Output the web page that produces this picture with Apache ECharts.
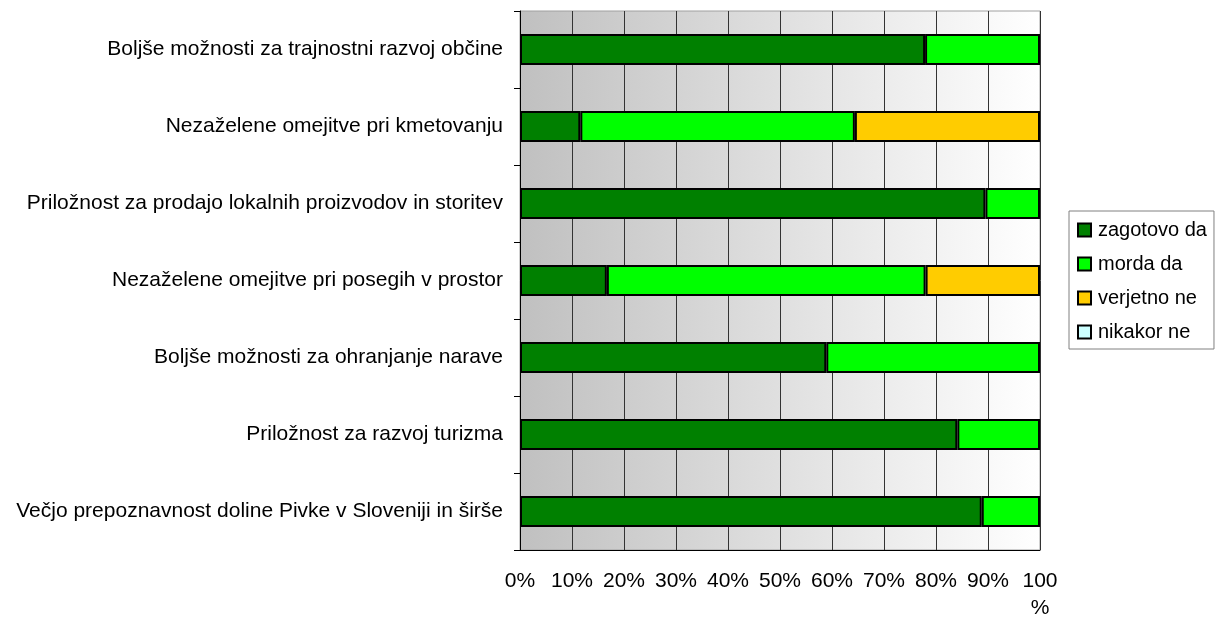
<!DOCTYPE html>
<html>
<head>
<meta charset="utf-8">
<script src="https://cdn.jsdelivr.net/npm/echarts@6/dist/echarts.min.js"></script>
<style>html,body{margin:0;padding:0;background:#fff;}#c{width:1221px;height:618px;}</style>
</head>
<body>
<div id="c"></div>
<script>
const categories = [
  "Boljše možnosti za trajnostni razvoj občine",
  "Nezaželene omejitve pri kmetovanju",
  "Priložnost za prodajo lokalnih proizvodov in storitev",
  "Nezaželene omejitve pri posegih v prostor",
  "Boljše možnosti za ohranjanje narave",
  "Priložnost za razvoj turizma",
  "Večjo prepoznavnost doline Pivke v Sloveniji in širše"
];
const seriesNames = ["zagotovo da", "morda da", "verjetno ne", "nikakor ne"];
const zagotovoDa = [77.9, 11.6, 89.5, 16.7, 58.9, 84.1, 88.8];
const mordaDa    = [22.1, 52.8, 10.5, 61.3, 41.1, 15.9, 11.2];
const verjetnoNe = [0, 35.6, 0, 22.0, 0, 0, 0];
const nikakorNe  = [0, 0, 0, 0, 0, 0, 0];
const tickLabels = ["0%","10%","20%","30%","40%","50%","60%","70%","80%","90%","100\n%"];
const colors = ["#008000", "#00ff00", "#ffcc00", "#ccffff"];

const FONT = "'Liberation Sans', Arial, sans-serif";
const chart = echarts.init(document.getElementById('c'));
const values = [zagotovoDa, mordaDa, verjetnoNe, nikakorNe];

chart.setOption({
  animation: false,
  textStyle: { fontFamily: FONT },
  grid: {
    left: 520, right: 181, top: 11, bottom: 68,
    outerBoundsMode: 'none',
    containLabel: false,
    show: true,
    borderColor: '#a0a0a0', borderWidth: 1,
    backgroundColor: new echarts.graphic.LinearGradient(0, 0, 1, 0, [
      { offset: 0, color: '#c0c0c0' },
      { offset: 1, color: '#ffffff' }
    ])
  },
  legend: {
    orient: 'vertical',
    left: 1069, top: 211,
    data: seriesNames,
    itemWidth: 13, itemHeight: 13, itemGap: 14,
    padding: [9, 7, 7, 8],
    backgroundColor: '#fff',
    borderColor: '#808080', borderWidth: 1,
    icon: 'rect',
    textStyle: { fontFamily: FONT, fontSize: 20, color: '#000', padding: [0, 0, 0, 2] }
  },
  xAxis: {
    type: 'value', min: 0, max: 100, interval: 10,
    axisLine: { show: true, lineStyle: { color: '#000', width: 1 } },
    axisTick: { show: false },
    splitLine: { show: true, lineStyle: { color: '#333', width: 1 } },
    axisLabel: {
      color: '#000', fontFamily: FONT, fontSize: 21, margin: 18, lineHeight: 27,
      verticalAlign: 'top',
      formatter: function (v) { return tickLabels[Math.round(v / 10)]; }
    }
  },
  yAxis: {
    type: 'category', data: categories, inverse: true,
    axisLine: { show: true, lineStyle: { color: '#000', width: 1 } },
    axisTick: { show: true, length: 6, lineStyle: { color: '#000' } },
    axisLabel: { color: '#000', fontFamily: FONT, fontSize: 21, margin: 17 }
  },
  series: seriesNames.map(function (name, i) {
    return {
      name: name, type: 'bar', stack: 'total', barWidth: '40%',
      itemStyle: { color: colors[i], borderColor: '#000', borderWidth: 2 },
      data: values[i].map(function (v) { return v === 0 ? null : v; })
    };
  })
});
</script>
</body>
</html>
